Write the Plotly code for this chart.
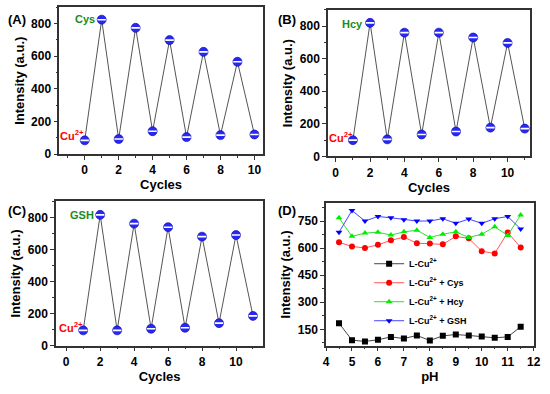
import plotly.graph_objects as go

# Panel A (Cys)
cyc_a = [0, 1, 2, 3, 4, 5, 6, 7, 8, 9, 10]
int_a = [85, 824, 93, 774, 141, 699, 105, 627, 117, 566, 121]
# Panel B (Hcy)
cyc_b = [1, 2, 3, 4, 5, 6, 7, 8, 9, 10, 11]
int_b = [100, 820, 105, 760, 135, 760, 153, 730, 177, 697, 171]
# Panel C (GSH)
cyc_c = [1, 2, 3, 4, 5, 6, 7, 8, 9, 10, 11]
int_c = [96, 816, 96, 761, 106, 739, 112, 680, 141, 690, 186]
# Panel D (pH)
ph = [4.5, 5, 5.5, 6, 6.5, 7, 7.5, 8, 8.5, 9, 9.5, 10, 10.5, 11, 11.5]
d_cu = [184, 90, 83, 92, 108, 99, 116, 88, 114, 121, 116, 110, 103, 108, 164]
d_cys = [632, 609, 601, 618, 643, 661, 627, 625, 621, 665, 654, 583, 570, 687, 603]
d_hcy = [768, 665, 683, 688, 672, 690, 699, 659, 677, 690, 659, 677, 718, 670, 784]
d_gsh = [688, 808, 750, 775, 768, 757, 750, 750, 763, 737, 761, 737, 763, 775, 706]

FONT = "Liberation Sans"
fig = go.Figure()

for xs, ys, ax in [(cyc_a, int_a, ""), (cyc_b, int_b, "2"), (cyc_c, int_c, "3")]:
    fig.add_trace(go.Scatter(x=xs, y=ys, mode="lines+markers",
                             line=dict(color="#555555", width=1),
                             marker=dict(symbol="circle", size=9, color="#2828f4",
                                         line=dict(color="#0000b0", width=0.6)),
                             showlegend=False, hoverinfo="skip",
                             xaxis="x" + ax, yaxis="y" + ax))
    # white highlight stripe on each sphere-like marker
    fig.add_trace(go.Scatter(x=xs, y=ys, mode="markers",
                             marker=dict(symbol="line-ew", size=6,
                                         line=dict(color="white", width=1.6)),
                             showlegend=False, hoverinfo="skip",
                             xaxis="x" + ax, yaxis="y" + ax))

sup = "L-Cu<sup>2+</sup>"
for ys, name, col, lcol, sym in [
    (d_cu, sup, "black", "#444444", "square"),
    (d_cys, sup + " + Cys", "#ff0000", "#ff5555", "circle"),
    (d_hcy, sup + " + Hcy", "#00ee00", "#33dd33", "triangle-up"),
    (d_gsh, sup + " + GSH", "#0000ff", "#4444ff", "triangle-down"),
]:
    fig.add_trace(go.Scatter(x=ph, y=ys, mode="lines+markers", name=name,
                             line=dict(color=lcol, width=1),
                             marker=dict(symbol=sym, size=6, color=col),
                             xaxis="x4", yaxis="y4"))

tickf = dict(family=FONT, size=12, color="black", weight="bold")
titf = dict(family=FONT, size=13, color="black", weight="bold")

def axis(domain, rng, dtick, mdtick, anchor, title):
    return dict(domain=domain, range=rng, dtick=dtick, anchor=anchor,
                showline=True, mirror=True, linecolor="#333333", linewidth=1.5,
                ticks="outside", ticklen=4, tickwidth=1.2, tickcolor="#333333",
                minor=dict(dtick=mdtick, ticks="outside", ticklen=2, tickcolor="#333333"),
                showgrid=False, zeroline=False, tickfont=tickf,
                title=dict(text=title, font=titf, standoff=4))

layout = dict(
    width=550, height=394, margin=dict(l=0, r=0, t=0, b=0),
    paper_bgcolor="white", plot_bgcolor="white",
    xaxis=axis([0.1042, 0.4813], [-1.5, 10.5], 2, 1, "y", "Cycles"),
    yaxis=axis([0.6015, 0.9812], [0, 900], 200, 100, "x", "Intensity (a.u.)"),
    xaxis2=axis([0.6018, 0.9758], [-0.45, 11.3], 2, 1, "y2", "Cycles"),
    yaxis2=axis([0.5957, 0.9746], [0, 900], 200, 100, "x2", "Intensity (a.u.)"),
    xaxis3=axis([0.0982, 0.4818], [-0.6, 11.6], 2, 1, "y3", "Cycles"),
    yaxis3=axis([0.1066, 0.4797], [0, 900], 200, 100, "x3", "Intensity (a.u.)"),
    xaxis4=axis([0.5982, 0.9827], [4, 12], 1, 0.5, "y4", "pH"),
    yaxis4=axis([0.1066, 0.4746], [59, 848], 150, 75, "x4", "Intensity (a.u.)"),
    legend=dict(x=0.678, y=0.356, xanchor="left", yanchor="top",
                bgcolor="rgba(0,0,0,0)", tracegroupgap=0,
                font=dict(family=FONT, size=9, color="black", weight="bold"),
                itemwidth=30),
)
fig.update_layout(**layout)

green = "#1a8c1a"
anns = [
    ("(A)", 0.005, 0.975), ("(B)", 0.505, 0.975), ("(C)", 0.005, 0.48), ("(D)", 0.505, 0.48)
]
for t, x, y in anns:
    fig.add_annotation(text=t, x=x, y=y, xref="paper", yref="paper", xanchor="left",
                       yanchor="top", showarrow=False,
                       font=dict(family=FONT, size=13, color="black", weight="bold"))

labels = [
    ("Cys", 0.0, 830, "x", "y", green),
    ("Cu<sup>2+</sup>", -0.75, 120, "x", "y", "#ff0000"),
    ("Hcy", 1.0, 810, "x2", "y2", green),
    ("Cu<sup>2+</sup>", 0.33, 118, "x2", "y2", "#ff0000"),
    ("GSH", 0.94, 814, "x3", "y3", green),
    ("Cu<sup>2+</sup>", 0.28, 114, "x3", "y3", "#ff0000"),
]
for t, x, y, xr, yr, c in labels:
    fig.add_annotation(text=t, x=x, y=y, xref=xr, yref=yr, showarrow=False,
                       font=dict(family=FONT, size=11, color=c, weight="bold"))

fig.write_html("out.html", config={"displayModeBar": False},
               post_script="document.body.style.margin='0';document.body.style.overflow='hidden';")
